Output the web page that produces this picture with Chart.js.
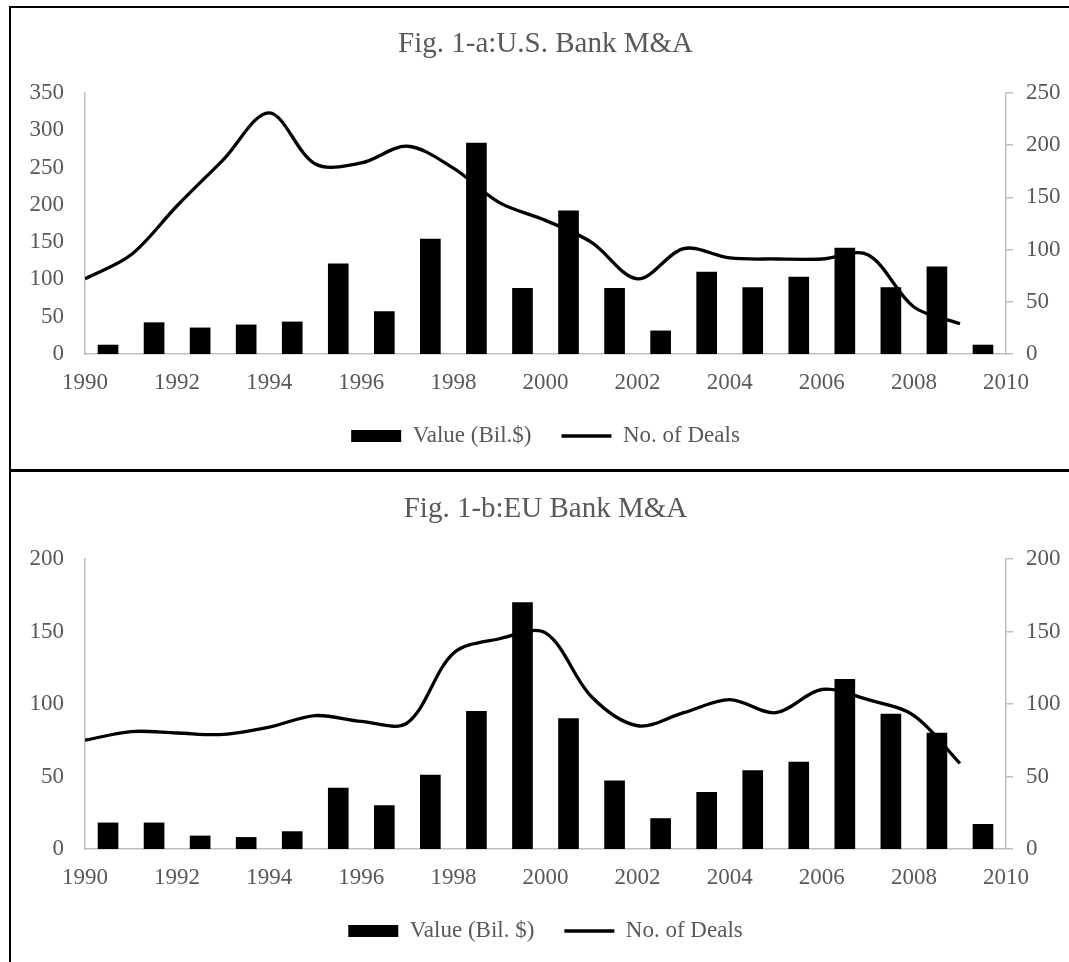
<!DOCTYPE html>
<html>
<head>
<meta charset="utf-8">
<script src="https://cdn.jsdelivr.net/npm/chart.js@4.4.0/dist/chart.umd.min.js"></script>
<style>
  body { margin: 0; background: #fff; }
  #frame { position: absolute; left: 9px; top: 6px; width: 1100px; height: 1000px; border-left: 2px solid #000; border-top: 2px solid #000; }
  #divider { position: absolute; left: 9px; top: 469px; width: 1100px; height: 3px; background: #000; }
  canvas { position: absolute; left: 0; }
  #chart_us { top: 0; }
  #chart_eu { top: 471px; }
</style>
</head>
<body>
<div id="frame"></div>
<div id="divider"></div>
<canvas id="chart_us" width="1069" height="471"></canvas>
<canvas id="chart_eu" width="1069" height="491"></canvas>
<script>
const years = [1990, 1991, 1992, 1993, 1994, 1995, 1996, 1997, 1998, 1999, 2000, 2001, 2002, 2003, 2004, 2005, 2006, 2007, 2008, 2009];
const yearTicks = [1990, 1992, 1994, 1996, 1998, 2000, 2002, 2004, 2006, 2008, 2010];

// Fig. 1-a
const usValue = [12, 42, 35, 39, 43, 121, 57, 154, 283, 88, 192, 88, 31, 110, 89, 103, 142, 89, 117, 12];
const usDeals = [72, 95, 142, 186, 231, 182, 183, 199, 178, 145, 128, 107, 72, 101, 92, 91, 91, 95, 45, 29];
const usTicksLeft = [0, 50, 100, 150, 200, 250, 300, 350];
const usTicksRight = [0, 50, 100, 150, 200, 250];

// Fig. 1-b
const euValue = [18, 18, 9, 8, 12, 42, 30, 51, 95, 170, 90, 47, 21, 39, 54, 60, 117, 93, 80, 17];
const euDeals = [75, 81, 80, 79, 84, 92, 88, 87, 135, 145, 149, 105, 85, 94, 103, 94, 110, 103, 92, 59];
const euTicksLeft = [0, 50, 100, 150, 200];
const euTicksRight = [0, 50, 100, 150, 200];

const TEXT = '#595959';
const AXIS = '#bfbfbf';
Chart.defaults.font.family = "'Liberation Serif', 'Times New Roman', serif";
Chart.defaults.color = TEXT;

function fixTicks(list) {
  return scale => { scale.ticks = list.map(v => ({ value: v })) }
}

function makeChart(canvasId, title, barLabel, values, deals, leftTicks, rightTicks, titlePad, bottomPad) {
  return new Chart(document.getElementById(canvasId), {
    type: 'bar',
    data: {
      datasets: [
        {
          type: 'bar', label: barLabel, order: 1, yAxisID: 'y',
          data: years.map((yr, i) => ({ x: yr + 0.5, y: values[i] })),
          backgroundColor: '#000', borderWidth: 0, barThickness: 20, pointStyle: 'rect'
        },
        {
          type: 'line', label: 'No. of Deals', order: 0, yAxisID: 'y1',
          data: years.map((yr, i) => ({ x: yr, y: deals[i] })),
          borderColor: '#000', backgroundColor: '#000', borderWidth: 3.3, tension: 0.33,
          pointRadius: 0, pointHoverRadius: 0, pointStyle: 'line',
          pointBorderWidth: 3.3, pointBorderColor: '#000', pointBackgroundColor: '#000'
        }
      ]
    },
    options: {
      responsive: false,
      animation: false,
      events: [],
      layout: { padding: { top: 0, bottom: bottomPad, left: 0, right: 0 } },
      plugins: {
        title: { display: true, text: title, fullSize: false, color: TEXT, font: { size: 29, weight: 'normal' }, padding: titlePad },
        legend: {
          position: 'bottom', fullSize: false,
          labels: {
            usePointStyle: true, pointStyleWidth: 50, boxHeight: 12, padding: 30,
            font: { size: 23 }, color: TEXT,
            sort: (a, b) => a.datasetIndex - b.datasetIndex
          }
        },
        tooltip: { enabled: false }
      },
      scales: {
        x: {
          type: 'linear', min: yearTicks[0], max: yearTicks[yearTicks.length - 1], offset: false,
          grid: { display: false, drawTicks: false, offset: false },
          border: { color: AXIS, width: 1.5 },
          ticks: { color: TEXT, font: { size: 23 }, padding: 15.5, maxRotation: 0, autoSkip: false, callback: v => String(v) },
          afterBuildTicks: fixTicks(yearTicks),
          afterFit: s => { s.height = 40.5 }
        },
        y: {
          position: 'left', min: 0, max: leftTicks[leftTicks.length - 1],
          grid: { display: false, drawTicks: false },
          border: { color: AXIS, width: 1.5 },
          ticks: { color: TEXT, font: { size: 23 }, padding: 21 },
          afterBuildTicks: fixTicks(leftTicks),
          afterFit: s => { s.width = 85 }
        },
        y1: {
          position: 'right', min: 0, max: rightTicks[rightTicks.length - 1],
          grid: { display: true, drawOnChartArea: false, drawTicks: true, tickLength: 7, color: AXIS, lineWidth: 1.5 },
          border: { color: AXIS, width: 1.5 },
          ticks: { color: TEXT, font: { size: 23 }, padding: 13 },
          afterBuildTicks: fixTicks(rightTicks),
          afterFit: s => { s.width = 63 }
        }
      }
    }
  })
}

makeChart('chart_us', 'Fig. 1-a:U.S. Bank M&A', 'Value (Bil.$)', usValue, usDeals, usTicksLeft, usTicksRight, { top: 26.5, bottom: 31.7 }, 13.5);
makeChart('chart_eu', 'Fig. 1-b:EU Bank M&A', 'Value (Bil. $)', euValue, euDeals, euTicksLeft, euTicksRight, { top: 20.6, bottom: 32.6 }, 9.5);
</script>
</body>
</html>
